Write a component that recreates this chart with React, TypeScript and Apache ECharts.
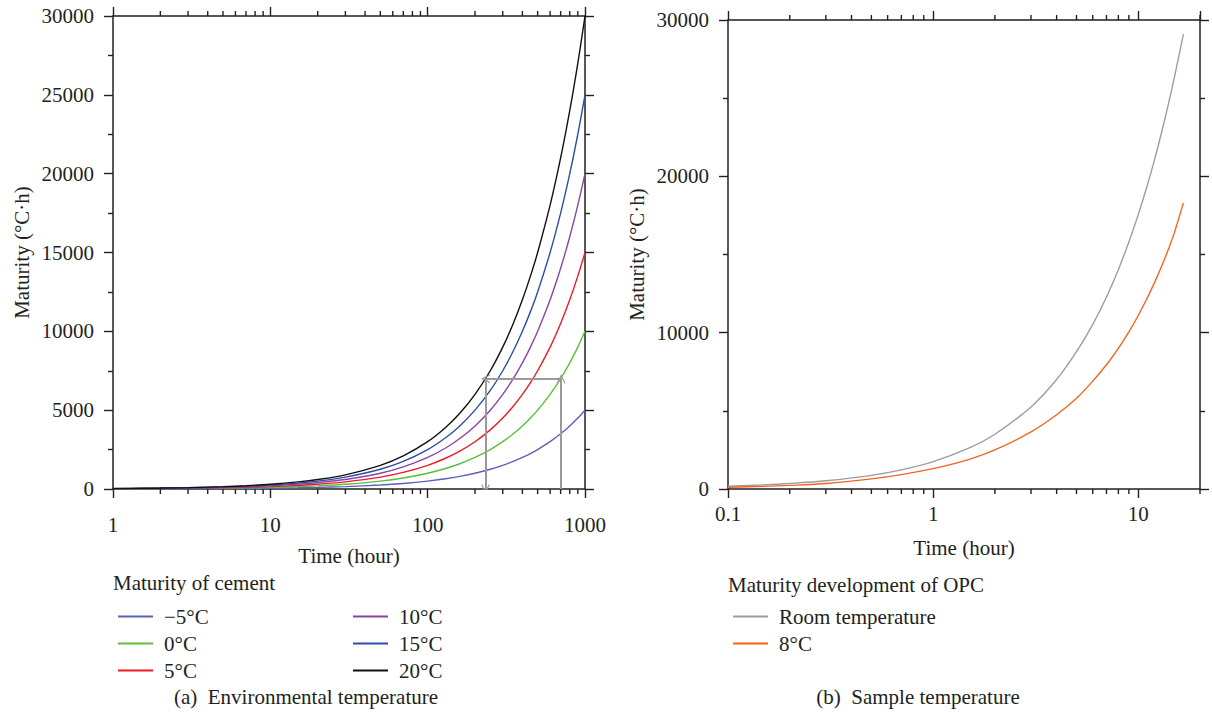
import React, { useEffect, useRef } from "react";
import * as echarts from "echarts";

// ---------- Panel (a): maturity of cement vs time ----------
const cementTimes = [1, 1.5, 2, 3, 5, 7, 10, 15, 20, 30, 50, 70, 100, 130, 160, 200, 250, 300, 350, 400, 450, 500, 600, 700, 800, 900, 1000];
const cementMinus5 = [5, 7.5, 10, 15, 25, 35, 50, 75, 100, 150, 250, 350, 500, 650, 800, 1000, 1250, 1500, 1750, 2000, 2250, 2500, 3000, 3500, 4000, 4500, 5000];
const cement0 = [10, 15, 20, 30, 50, 70, 100, 150, 200, 300, 500, 700, 1000, 1300, 1600, 2000, 2500, 3000, 3500, 4000, 4500, 5000, 6000, 7000, 8000, 9000, 10000];
const cement5 = [15, 22, 30, 45, 75, 105, 150, 225, 300, 450, 750, 1050, 1500, 1950, 2400, 3000, 3750, 4500, 5250, 6000, 6750, 7500, 9000, 10500, 12000, 13500, 15000];
const cement10 = [20, 30, 40, 60, 100, 140, 200, 300, 400, 600, 1000, 1400, 2000, 2600, 3200, 4000, 5000, 6000, 7000, 8000, 9000, 10000, 12000, 14000, 16000, 18000, 20000];
const cement15 = [25, 37, 50, 75, 125, 175, 250, 375, 500, 750, 1250, 1750, 2500, 3250, 4000, 5000, 6250, 7500, 8750, 10000, 11250, 12500, 15000, 17500, 20000, 22500, 25000];
const cement20 = [30, 45, 60, 90, 150, 210, 300, 450, 600, 900, 1500, 2100, 3000, 3900, 4800, 6000, 7500, 9000, 10500, 12000, 13500, 15000, 18000, 21000, 24000, 27000, 30000];
const cementNames = ["\u22125\u00b0C", "0\u00b0C", "5\u00b0C", "10\u00b0C", "15\u00b0C", "20\u00b0C"];
const cementColors = ["#5b62b5", "#5cbf3a", "#ec1c24", "#8b44a8", "#2b4ea6", "#111111"];
const cementMinorTicks = [2, 3, 4, 5, 6, 7, 8, 9, 20, 30, 40, 50, 60, 70, 80, 90, 200, 300, 400, 500, 600, 700, 800, 900];
const arrowTimes = [705, 233];
const arrowLevel = 7000;

// ---------- Panel (b): maturity development of OPC ----------
const opcTimes = [0.1, 0.15, 0.2, 0.3, 0.5, 0.7, 1, 1.5, 2, 3, 4, 5, 6, 7, 8, 9, 10, 11, 12, 13, 14, 15, 16.6];
const opcRoom = [175, 263, 350, 525, 875, 1225, 1750, 2630, 3500, 5250, 7000, 8780, 10530, 12280, 14030, 15800, 17550, 19300, 21050, 22820, 24570, 26330, 29100];
const opc8 = [110, 170, 230, 350, 650, 920, 1300, 1900, 2500, 3650, 4750, 5800, 6900, 7950, 9000, 10050, 11100, 12150, 13200, 14250, 15300, 16400, 18300];
const opcNames = ["Room temperature", "8\u00b0C"];
const opcColors = ["#9d9d9d", "#f26522"];
const opcMinorTicks = [0.2, 0.3, 0.4, 0.5, 0.6, 0.7, 0.8, 0.9, 2, 3, 4, 5, 6, 7, 8, 9, 20];

const FONT = "Liberation Serif";
const FS = 21;
const AXIS = "#231f20";
const TEXT = "#231f20";

function zip(xs: number[], ys: number[]) {
  return xs.map((x, i) => [x, ys[i]]);
}

function minorTickSeries(ticks: number[], axisIdx: number) {
  return {
    type: "custom",
    xAxisIndex: axisIdx * 2,
    yAxisIndex: axisIdx * 2,
    silent: true,
    clip: false,
    z: 5,
    data: ticks.map((t) => [t, 0]),
    renderItem: (params: any, api: any) => {
      const p = api.coord([api.value(0), api.value(1)]);
      const cs = params.coordSys;
      const bottom = cs.y + cs.height;
      const top = cs.y;
      return {
        type: "group",
        children: [
          { type: "line", shape: { x1: p[0], y1: bottom, x2: p[0], y2: bottom + 5 }, style: { stroke: AXIS, lineWidth: 1.4 } },
          { type: "line", shape: { x1: p[0], y1: top, x2: p[0], y2: top - 5 }, style: { stroke: AXIS, lineWidth: 1.4 } },
        ],
      };
    },
  };
}

const axisLine = { show: true, onZero: false, lineStyle: { color: AXIS, width: 1.5 } };
const tick = { show: true, inside: false, length: 9, lineStyle: { color: AXIS, width: 1.4 } };
const labelStyle = { color: TEXT, fontFamily: FONT, fontSize: FS };

function xAxes(gridIndex: number, min: number, max: number, labelMargin: number, nameGap: number) {
  return [
    {
      type: "log",
      logBase: 10,
      gridIndex,
      min,
      max,
      position: "bottom",
      axisLine,
      axisTick: tick,
      splitLine: { show: false },
      axisLabel: { ...labelStyle, margin: labelMargin, showMaxLabel: gridIndex === 0, formatter: (v: number) => String(+Number(v).toPrecision(6)) },
      name: "Time (hour)",
      nameLocation: "middle",
      nameGap,
      nameTextStyle: labelStyle,
    },
    {
      type: "log",
      logBase: 10,
      gridIndex,
      min,
      max,
      position: "top",
      axisLine,
      axisTick: tick,
      splitLine: { show: false },
      axisLabel: { show: false },
    },
  ];
}

function yAxes(gridIndex: number, interval: number, nameGap: number) {
  return [
    {
      type: "value",
      gridIndex,
      min: 0,
      max: 30000,
      interval,
      position: "left",
      axisLine,
      axisTick: tick,
      minorTick: { show: true, splitNumber: 2, length: 5, lineStyle: { color: AXIS, width: 1.4 } },
      splitLine: { show: false },
      minorSplitLine: { show: false },
      axisLabel: { ...labelStyle, margin: 19, formatter: (v: number) => String(v) },
      name: "Maturity (\u00b0C\u00b7h)",
      nameLocation: "middle",
      nameGap,
      nameRotate: 90,
      nameTextStyle: labelStyle,
    },
    {
      type: "value",
      gridIndex,
      min: 0,
      max: 30000,
      interval,
      position: "right",
      axisLine,
      axisTick: tick,
      minorTick: { show: true, splitNumber: 2, length: 5, lineStyle: { color: AXIS, width: 1.4 } },
      splitLine: { show: false },
      minorSplitLine: { show: false },
      axisLabel: { show: false },
    },
  ];
}

const chevron = "path://M0,10 L5,0 L10,10 L8.6,10 L5,2.8 L1.4,10 Z";

export default function App() {
  const ref = useRef<HTMLDivElement>(null);
  useEffect(() => {
    const chart = echarts.init(ref.current!, null, { renderer: "svg" });
    const cementData = [cementMinus5, cement0, cement5, cement10, cement15, cement20];
    const legendBase = {
      orient: "vertical",
      icon: "rect",
      itemWidth: 35,
      itemHeight: 2,
      itemGap: 0,
      selectedMode: false,
      textStyle: { color: TEXT, fontFamily: FONT, fontSize: FS, lineHeight: 27, padding: [0, 0, 0, 6] },
    };
    const option: any = {
      animation: false,
      backgroundColor: "#ffffff",
      textStyle: { fontFamily: FONT },
      grid: [
        { left: 113, top: 16, width: 472, height: 473, containLabel: false },
        { left: 728, top: 20, width: 472, height: 469, containLabel: false },
      ],
      xAxis: [...xAxes(0, 1, 1000, 25, 56), ...xAxes(1, 0.1, 20, 14, 48)],
      yAxis: [...yAxes(0, 5000, 81), ...yAxes(1, 10000, 81)],
      legend: [
        { ...legendBase, left: 113, top: 598, data: cementNames.slice(0, 3) },
        { ...legendBase, left: 348, top: 598, data: cementNames.slice(3, 6) },
        { ...legendBase, left: 728, top: 598, data: opcNames },
      ],
      graphic: [
        { type: "text", left: 113, top: 572, style: { text: "Maturity of cement", font: `${FS}px '${FONT}'`, fill: TEXT } },
        { type: "text", left: 728, top: 574, style: { text: "Maturity development of OPC", font: `${FS}px '${FONT}'`, fill: TEXT } },
        { type: "text", x: 306, y: 697, style: { text: "(a)  Environmental temperature", font: `${FS}px '${FONT}'`, fill: TEXT, align: "center", verticalAlign: "middle" } },
        { type: "text", x: 918, y: 697, style: { text: "(b)  Sample temperature", font: `${FS}px '${FONT}'`, fill: TEXT, align: "center", verticalAlign: "middle" } },
      ],
      series: [
        ...cementData.map((vals, i) => ({
          type: "line",
          name: cementNames[i],
          xAxisIndex: 0,
          yAxisIndex: 0,
          data: zip(cementTimes, vals),
          showSymbol: false,
          symbol: "none",
          smooth: 0.3,
          lineStyle: { color: cementColors[i], width: 1.4 },
          itemStyle: { color: cementColors[i] },
          z: 3,
        })),
        {
          type: "lines",
          coordinateSystem: "cartesian2d",
          xAxisIndex: 0,
          yAxisIndex: 0,
          symbol: ["none", chevron],
          symbolSize: [13, 9],
          silent: true,
          lineStyle: { color: "#9a9a9a", width: 2, opacity: 1 },
          z: 4,
          data: [
            { coords: [[arrowTimes[0], 0], [arrowTimes[0], arrowLevel]] },
            { coords: [[arrowTimes[0], arrowLevel], [arrowTimes[1], arrowLevel]] },
            { coords: [[arrowTimes[1], arrowLevel], [arrowTimes[1], 0]] },
          ],
        },
        ...[opcRoom, opc8].map((vals, i) => ({
          type: "line",
          name: opcNames[i],
          xAxisIndex: 2,
          yAxisIndex: 2,
          data: zip(opcTimes, vals),
          showSymbol: false,
          symbol: "none",
          smooth: 0.3,
          lineStyle: { color: opcColors[i], width: 1.4 },
          itemStyle: { color: opcColors[i] },
          z: 3,
        })),
        minorTickSeries(cementMinorTicks, 0),
        minorTickSeries(opcMinorTicks, 1),
      ],
    };
    chart.setOption(option);
    return () => chart.dispose();
  }, []);
  return (
    <div
      ref={ref}
      style={{ position: "fixed", left: 0, top: 0, width: 1212, height: 712, background: "#fff" }}
    />
  );
}
